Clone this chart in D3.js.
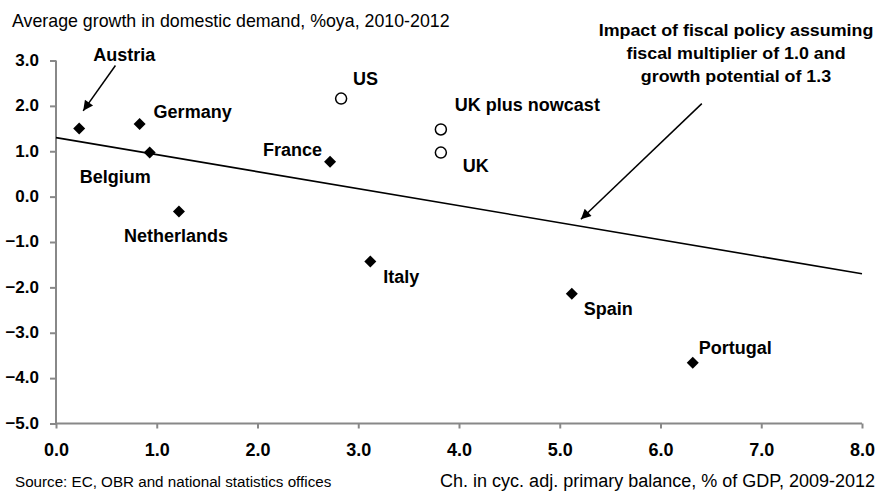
<!DOCTYPE html>
<html>
<head>
<meta charset="utf-8">
<script src="https://cdn.jsdelivr.net/npm/d3@7"></script>
<style>
  body { margin: 0; background: #fff; }
  svg { display: block; font-family: "Liberation Sans", Arial, sans-serif; }
</style>
</head>
<body>
<div></div>
<script>
// countries, balance change (x) and domestic demand growth (y)
const countries = ['Austria', 'Germany', 'Belgium', 'Netherlands', 'France', 'Italy', 'Spain', 'Portugal'];
const balanceChg = [0.23, 0.83, 0.93, 1.22, 2.72, 3.12, 5.12, 6.32];
const demandGrowth = [1.50, 1.60, 0.97, -0.33, 0.77, -1.43, -2.14, -3.66];

// open circles: US and UK
const otherCountries = ['US', 'UK plus nowcast', 'UK'];
const otherBalance = [2.83, 3.82, 3.82];
const otherGrowth = [2.16, 1.48, 0.97];

// fiscal policy line: growth potential 1.3
const lineX = [0, 8];
const lineY = [1.3, -1.7];

const xTicks = [0, 1, 2, 3, 4, 5, 6, 7, 8];
const yTicks = [3, 2, 1, 0, -1, -2, -3, -4, -5];

// label offsets from the marker, in px [dx, dy, anchor]
const labelOffsets = {
    'Austria': [14, -68, 'start'],
    'Germany': [14, -6, 'start'],
    'Belgium': [-70, 30, 'start'],
    'Netherlands': [-55, 30, 'start'],
    'France': [-8, -6, 'end'],
    'Italy': [13, 21, 'start'],
    'Spain': [12, 21, 'start'],
    'Portugal': [6, -9, 'start'],
    'US': [12, -14, 'start'],
    'UK plus nowcast': [14, -18, 'start'],
    'UK': [22, 19, 'start']
};

const svgWidth = 877,
    svgHeight = 492;

const svg = d3.select('body')
    .select('div')
    .append('svg')
    .attr('width', svgWidth)
    .attr('height', svgHeight);

svg.append('defs')
    .append('marker')
    .attr('id', 'head')
    .attr('viewBox', '0 0 10 10')
    .attr('refX', 10)
    .attr('refY', 5)
    .attr('markerWidth', 15)
    .attr('markerHeight', 10)
    .attr('markerUnits', 'userSpaceOnUse')
    .attr('orient', 'auto')
    .append('path')
    .attr('d', 'M0,0 L10,5 L0,10 Z')
    .attr('fill', '#000');

const xScale = d3.scaleLinear()
    .domain([0, 8])
    .range([56, 862]);

const yScale = d3.scaleLinear()
    .domain([-5, 3])
    .range([423.5, 60.5]);

const xAxis = d3.axisBottom(xScale)
    .tickValues(xTicks)
    .tickSize(5)
    .tickPadding(15)
    .tickFormat(d3.format('.1f'));

const yAxis = d3.axisLeft(yScale)
    .tickValues(yTicks)
    .tickSize(6)
    .tickPadding(11)
    .tickFormat(d3.format('.1f'));

const gx = svg.append('g')
    .attr('id', 'x-axis')
    .attr('transform', `translate(0, ${yScale(-5)})`)
    .call(xAxis);

const gy = svg.append('g')
    .attr('id', 'y-axis')
    .attr('transform', `translate(${xScale(0)}, 0)`)
    .call(yAxis);

[gx, gy].forEach(g => {
    g.selectAll('path, line')
        .attr('stroke', '#888')
        .attr('stroke-width', 2);
    g.selectAll('text')
        .attr('fill', '#000')
        .attr('font-weight', 'bold')
        .attr('font-family', '"Liberation Sans", Arial, sans-serif');
});
gx.select('.domain').attr('d', `M${xScale(0)},0H${xScale(8)}`);
gy.select('.domain').attr('d', `M0,${yScale(-5) + 1}V${yScale(3)}`);
gx.selectAll('text').attr('font-size', 18);
gy.selectAll('text').attr('font-size', 17).attr('dy', '0.28em');

// fiscal policy line
svg.append('line')
    .attr('x1', xScale(lineX[0]))
    .attr('y1', yScale(lineY[0]))
    .attr('x2', xScale(lineX[1]))
    .attr('y2', yScale(lineY[1]))
    .attr('stroke', '#000')
    .attr('stroke-width', 1.6);

// arrows (data coords)
const arrows = [
    [[0.59, 2.89], [0.27, 1.89]],
    [[6.41, 2.05], [5.21, -0.50]]
];
svg.selectAll('.arrow')
    .data(arrows)
    .enter()
    .append('line')
    .attr('class', 'arrow')
    .attr('x1', d => xScale(d[0][0]))
    .attr('y1', d => yScale(d[0][1]))
    .attr('x2', d => xScale(d[1][0]))
    .attr('y2', d => yScale(d[1][1]))
    .attr('stroke', '#000')
    .attr('stroke-width', 1.5)
    .attr('marker-end', 'url(#head)');

const diamonds = countries.map((c, i) => [c, balanceChg[i], demandGrowth[i]]);
const circles = otherCountries.map((c, i) => [c, otherBalance[i], otherGrowth[i]]);

svg.selectAll('.dot')
    .data(diamonds)
    .enter()
    .append('path')
    .attr('class', 'dot')
    .attr('d', d3.symbol(d3.symbolSquare, 72))
    .attr('transform', d => `translate(${xScale(d[1])}, ${yScale(d[2])}) rotate(45)`)
    .attr('fill', '#000');

svg.selectAll('.ring')
    .data(circles)
    .enter()
    .append('circle')
    .attr('class', 'ring')
    .attr('cx', d => xScale(d[1]))
    .attr('cy', d => yScale(d[2]))
    .attr('r', 5.5)
    .attr('fill', '#fff')
    .attr('stroke', '#000')
    .attr('stroke-width', 1.5);

svg.selectAll('.label')
    .data(diamonds.concat(circles))
    .enter()
    .append('text')
    .attr('class', 'label')
    .attr('x', d => xScale(d[1]) + labelOffsets[d[0]][0])
    .attr('y', d => yScale(d[2]) + labelOffsets[d[0]][1])
    .attr('text-anchor', d => labelOffsets[d[0]][2])
    .attr('font-size', 18)
    .attr('font-weight', 'bold')
    .text(d => d[0]);

// annotation, the source font is a wide one so stretch it a bit
const note = ['Impact of fiscal policy assuming', 'fiscal multiplier of 1.0 and', 'growth potential of 1.3'];
svg.append('text')
    .attr('transform', 'translate(736, 0) scale(1.05, 1)')
    .attr('font-size', 17)
    .attr('font-weight', 'bold')
    .attr('text-anchor', 'middle')
    .selectAll('tspan')
    .data(note)
    .enter()
    .append('tspan')
    .attr('x', 0)
    .attr('y', (d, i) => 36 + i * 23)
    .text(d => d);

// titles
svg.append('text')
    .attr('x', 12)
    .attr('y', 27)
    .attr('font-size', 17.8)
    .text('Average growth in domestic demand, %oya, 2010-2012');

svg.append('text')
    .attr('x', 15)
    .attr('y', 487)
    .attr('font-size', 15.2)
    .text('Source: EC, OBR and national statistics offices');

svg.append('text')
    .attr('x', 875)
    .attr('y', 487)
    .attr('font-size', 18)
    .attr('text-anchor', 'end')
    .text('Ch. in cyc. adj. primary balance, % of GDP, 2009-2012');
</script>
</body>
</html>
